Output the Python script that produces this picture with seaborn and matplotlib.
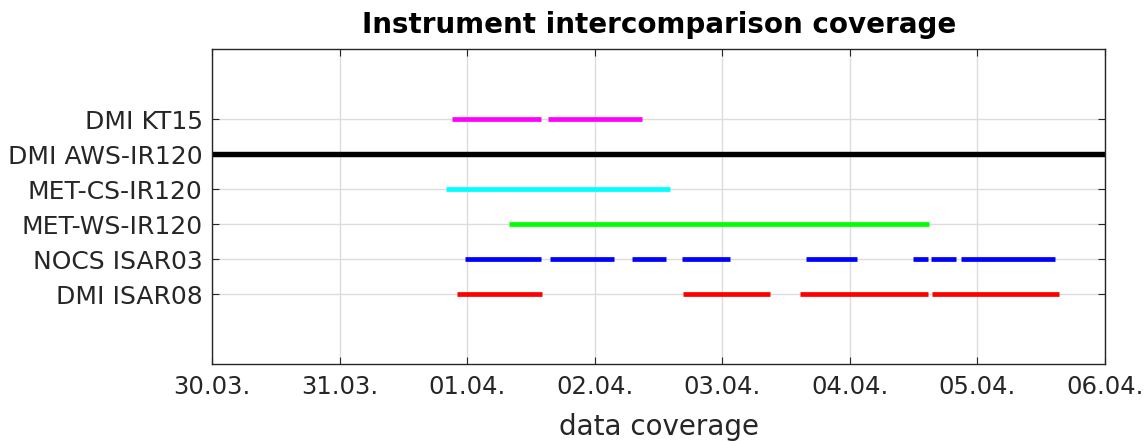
import matplotlib
matplotlib.use("Agg")
import matplotlib.pyplot as plt
import matplotlib.dates as mdates
import pandas as pd
import seaborn as sns

# ---- data -------------------------------------------------------------
instruments = ["DMI KT15", "DMI AWS-IR120", "MET-CS-IR120",
               "MET-WS-IR120", "NOCS ISAR03", "DMI ISAR08"]
colors = ["#FF00FF", "#000000", "#00FFFF", "#00FF00", "#0000FF", "#FF0000"]

kt15_start = ["2022-03-31 21:08", "2022-04-01 15:10"]
kt15_end = ["2022-04-01 13:47", "2022-04-02 08:50"]

aws_start = ["2022-03-29 00:00"]
aws_end = ["2022-04-07 00:00"]

metcs_start = ["2022-03-31 20:04"]
metcs_end = ["2022-04-02 14:10"]

metws_start = ["2022-04-01 07:48"]
metws_end = ["2022-04-04 14:50"]

isar03_start = ["2022-03-31 23:38", "2022-04-01 15:29", "2022-04-02 06:59",
                "2022-04-02 16:29", "2022-04-03 15:39", "2022-04-04 11:54",
                "2022-04-04 15:14", "2022-04-04 20:57"]
isar03_end = ["2022-04-01 13:47", "2022-04-02 03:36", "2022-04-02 13:28",
              "2022-04-03 01:28", "2022-04-04 01:19", "2022-04-04 14:36",
              "2022-04-04 19:55", "2022-04-05 14:33"]

isar08_start = ["2022-03-31 22:05", "2022-04-02 16:36", "2022-04-03 14:34",
                "2022-04-04 15:26"]
isar08_end = ["2022-04-01 14:05", "2022-04-03 09:01", "2022-04-04 14:47",
              "2022-04-05 15:20"]

x_ticks = ["2022-03-30", "2022-03-31", "2022-04-01", "2022-04-02",
           "2022-04-03", "2022-04-04", "2022-04-05", "2022-04-06"]

# ---- build long table -------------------------------------------------
segments = {
    "DMI KT15": (kt15_start, kt15_end),
    "DMI AWS-IR120": (aws_start, aws_end),
    "MET-CS-IR120": (metcs_start, metcs_end),
    "MET-WS-IR120": (metws_start, metws_end),
    "NOCS ISAR03": (isar03_start, isar03_end),
    "DMI ISAR08": (isar08_start, isar08_end),
}
ypos = {name: len(instruments) - i for i, name in enumerate(instruments)}
rows = []
for name, (starts, ends) in segments.items():
    for k, (s, e) in enumerate(zip(starts, ends)):
        uid = f"{name}-{k}"
        rows.append(dict(instrument=name, seg=uid, time=pd.Timestamp(s), y=ypos[name]))
        rows.append(dict(instrument=name, seg=uid, time=pd.Timestamp(e), y=ypos[name]))
df = pd.DataFrame(rows)

# ---- plot -------------------------------------------------------------
sns.set_theme(style="white")
plt.rcParams["font.family"] = ["DejaVu Sans"]

fig = plt.figure(figsize=(11.47, 4.41), dpi=100)
ax = fig.add_axes([212.3 / 1147, 1 - 364 / 441, (1105 - 212.3) / 1147, (364 - 49.3) / 441])

palette = dict(zip(instruments, colors))
sizes = {n: (3.9 if n == "DMI AWS-IR120" else 3.4) for n in instruments}
sns.lineplot(data=df, x="time", y="y", hue="instrument", size="instrument",
             sizes=sizes, units="seg", estimator=None, sort=False,
             palette=palette, legend=False, ax=ax)
for ln in ax.get_lines():
    ln.set_solid_capstyle("butt")

ax.set_xlim(pd.Timestamp(x_ticks[0]), pd.Timestamp(x_ticks[-1]))
ax.set_ylim(-1, 8)
ax.set_xticks([pd.Timestamp(t) for t in x_ticks])
ax.xaxis.set_major_formatter(mdates.DateFormatter("%d.%m."))
ax.set_yticks([ypos[n] for n in instruments])
ax.set_yticklabels(instruments)

ax.grid(True, color="#dcdcdc", linewidth=1.0)
ax.set_axisbelow(True)
for sp in ax.spines.values():
    sp.set_visible(True)
    sp.set_color("#262626")
    sp.set_linewidth(1.0)
ax.tick_params(direction="in", length=5, width=0.8, color="#262626",
               top=True, right=True, bottom=True, left=True,
               labelsize=17.5, labelcolor="#262626", pad=8)
ax.tick_params(axis="y", labelsize=18, pad=7)

ax.set_xlabel("data coverage", fontsize=20, color="#262626", labelpad=10)
ax.set_ylabel("")
ax.set_title("Instrument intercomparison coverage", fontsize=20,
             fontweight="bold", color="black", pad=12)

fig.savefig("out.png", dpi=100)
